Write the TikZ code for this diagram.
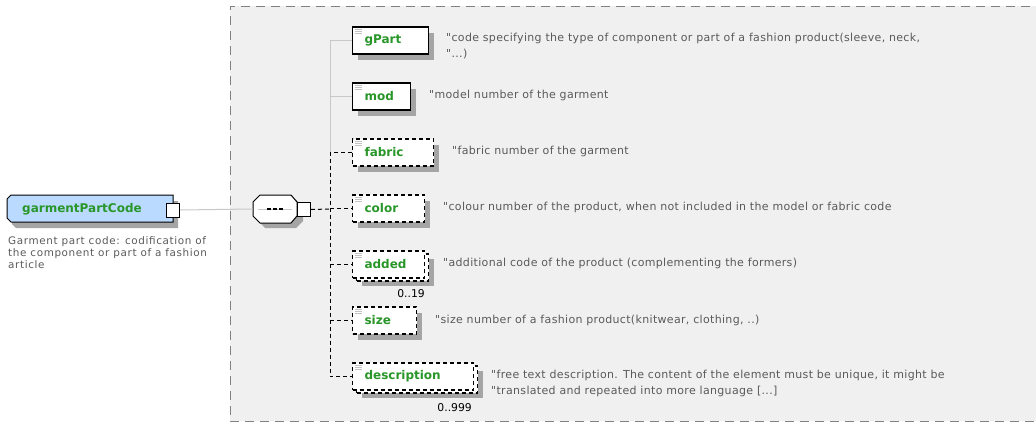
\documentclass[tikz,border=0pt]{standalone}
\usepackage{fontspec}
\setmainfont{DejaVu Sans}
\newfontfamily\rootdescfont{DejaVu Sans}[LetterSpace=6]
\newfontfamily\descfont{DejaVu Sans}[LetterSpace=3]
\usetikzlibrary{shadows}
\definecolor{panel}{RGB}{240,240,240}
\definecolor{panelline}{RGB}{128,128,128}
\definecolor{shadowc}{RGB}{165,165,165}
\definecolor{elgreen}{RGB}{40,150,40}
\definecolor{rootblue}{RGB}{186,218,255}
\definecolor{desctext}{RGB}{90,90,90}
\definecolor{lightline}{RGB}{200,200,200}
\definecolor{iconc}{RGB}{195,195,195}
\tikzset{
  elname/.style={font=\bfseries\fontsize{12}{14}\selectfont, text=elgreen},
  mandbox/.style={draw=black, line width=1.4pt, fill=white, rectangle, inner sep=0pt, minimum height=27pt, anchor=west,
    drop shadow={shadow xshift=5pt, shadow yshift=-6pt, fill=shadowc, opacity=1}},
  optbox/.style={draw=black, line width=1.2pt, dash pattern=on 4pt off 3pt, fill=white, rectangle, inner sep=0pt, minimum height=27pt, anchor=west,
    drop shadow={shadow xshift=5pt, shadow yshift=-6pt, fill=shadowc, opacity=1}},
  optfront/.style={draw=black, line width=1.2pt, dash pattern=on 4pt off 3pt, fill=white, rectangle, inner sep=0pt, minimum height=27pt, anchor=west},
  optback/.style={draw=black, line width=1.2pt, dash pattern=on 4pt off 3pt, fill=white, rectangle, inner sep=0pt, minimum height=27pt, anchor=west,
    drop shadow={shadow xshift=5pt, shadow yshift=-5pt, fill=shadowc, opacity=1}},
  desc/.style={font=\descfont\fontsize{11}{16}\selectfont, text=desctext, anchor=west, inner sep=0pt, align=left},
  mult/.style={font=\fontsize{10.8}{12}\selectfont, text=black, anchor=east, inner sep=0pt},
  solidconn/.style={draw=lightline, line width=1pt},
  dashconn/.style={draw=black, line width=1pt, dash pattern=on 4pt off 3pt},
  iconline/.style={draw=iconc, line width=0.8pt},
  portbox/.style={draw=black, line width=1pt, fill=white, rectangle, inner sep=0pt, minimum width=13pt, minimum height=14pt},
}
\newcommand\elicon[1]{%
  \draw[iconline] ([xshift=3pt,yshift=-3pt]#1.north west) -- ++(7,0);
  \draw[iconline] ([xshift=3pt,yshift=-5pt]#1.north west) -- ++(7,0);
  \draw[iconline] ([xshift=3pt,yshift=-7pt]#1.north west) -- ++(7,0);
}
\begin{document}
\begin{tikzpicture}[x=1pt,y=-1pt]
\useasboundingbox (0,0) rectangle (1036,423);
% panel
\begin{scope}
\clip (0,0) rectangle (1036,423);
\fill[panel] (230,6) rectangle (1045,421);
\draw[panelline, line width=1pt, dash pattern=on 9pt off 6pt] (1045,6) -- (230,6) -- (230,421) -- (1045,421);
\end{scope}
% root element
\fill[shadowc] (16,201) -- (178,201) -- (178,228) -- (16,228) -- (12,224) -- (12,205) -- cycle;
\filldraw[fill=rootblue, draw=black, line width=1pt] (11,195) -- (173,195) -- (173,222) -- (11,222) -- (7,218) -- (7,199) -- cycle;
\node[elname, anchor=west, inner sep=0pt] (root) at (22,209) {garmentPartCode};
\node[portbox] (rootp) at (173,210) {};
\node[font=\rootdescfont\fontsize{10.4}{12.4}\selectfont, text=desctext, anchor=north west, inner sep=0pt, align=left] (rootdesc) at (8,236)
  {Garment part code: codification of\\the component or part of a fashion\\article};
% sequence compositor
\fill[shadowc] (265,200) -- (296,200) -- (303,207) -- (303,221) -- (296,228) -- (265,228) -- (258,221) -- (258,207) -- cycle;
\node[rectangle, minimum width=44pt, minimum height=28pt, inner sep=0pt] (seq) at (275,209) {};
\filldraw[fill=white, draw=black, line width=1pt] (260,195) -- (291,195) -- (297,202) -- (297,216) -- (291,223) -- (260,223) -- (253,216) -- (253,202) -- cycle;
\draw[lightline, line width=1pt] (258,209) -- (292,209);
\foreach \xx in {267,273,279} \fill[black] (\xx,207.8) rectangle (\xx+4,210.4);
\node[portbox] (seqp) at (304,209.5) {};
% connector root -> sequence
\draw[solidconn] (rootp.east) -- (seq.west);
% children
\node[mandbox, minimum width=76pt] (gPart) at (352,40.5) {};
\node[elname, anchor=west] at (gPart.west) {\hspace{9pt}gPart};
\elicon{gPart}
\node[mandbox, minimum width=58pt] (mod) at (352,96.5) {};
\node[elname, anchor=west] at (mod.west) {\hspace{9pt}mod};
\elicon{mod}
\node[optbox, minimum width=81pt] (fabric) at (352,152.5) {};
\node[elname, anchor=west] at (fabric.west) {\hspace{9pt}fabric};
\elicon{fabric}
\node[optbox, minimum width=72pt] (color) at (352,208.5) {};
\node[elname, anchor=west] at (color.west) {\hspace{9pt}color};
\elicon{color}
\node[optback, minimum width=72pt] (addedb) at (356,267.5) {};
\node[optfront, minimum width=72pt] (added) at (352,264.5) {};
\node[elname, anchor=west] at (added.west) {\hspace{9pt}added};
\elicon{added}
\node[optbox, minimum width=64pt] (size) at (352,320.5) {};
\node[elname, anchor=west] at (size.west) {\hspace{9pt}size};
\elicon{size}
\node[optback, minimum width=121pt] (descriptionb) at (356,379.5) {};
\node[optfront, minimum width=121pt] (description) at (352,376.5) {};
\node[elname, anchor=west] at (description.west) {\hspace{9pt}description};
\elicon{description}
% multiplicities
\node[mult] (m1) at (425,294) {0..19};
\node[mult] (m2) at (472,408) {0..999};
% trunk
\coordinate (trunk) at (330,209);
\draw[dashconn] (seqp.east) -- (trunk);
\draw[solidconn] (gPart.west -| trunk) -- (fabric.west -| trunk);
\draw[solidconn] (gPart.west -| trunk) -- (gPart.west);
\draw[solidconn] (mod.west -| trunk) -- (mod.west);
\draw[dashconn] (fabric.west) -- (fabric.west -| trunk) -- (description.west -| trunk) -- (description.west);
\draw[dashconn] (color.west -| trunk) -- (color.west);
\draw[dashconn] (added.west -| trunk) -- (added.west);
\draw[dashconn] (size.west -| trunk) -- (size.west);
% annotations
\node[desc] (dgPart) at (446,46.5) {"code specifying the type of component or part of a fashion product(sleeve, neck,\\"...)};
\node[desc] (dmod) at (429,95) {"model number of the garment};
\node[desc] (dfabric) at (452,151) {"fabric number of the garment};
\node[desc] (dcolor) at (443,207) {"colour number of the product, when not included in the model or fabric code};
\node[desc] (dadded) at (443,263) {"additional code of the product (complementing the formers)};
\node[desc] (dsize) at (435,320) {"size number of a fashion product(knitwear, clothing, ..)};
\node[desc] (ddesc) at (491,383.5) {"free text description. The content of the element must be unique, it might be\\"translated and repeated into more language [...]};
\end{tikzpicture}
\end{document}
